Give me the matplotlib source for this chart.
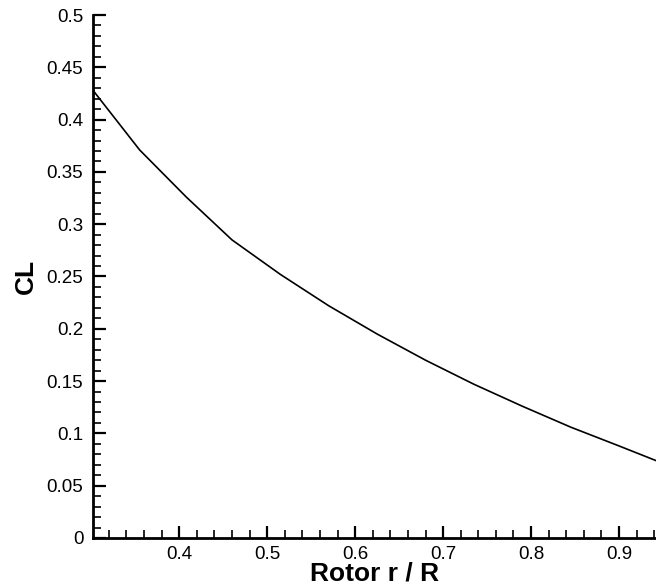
import numpy as np
import matplotlib
matplotlib.use("Agg")
import matplotlib.pyplot as plt
from matplotlib.ticker import MultipleLocator

plt.rcParams['font.family'] = ['Liberation Sans', 'DejaVu Sans']

# spanwise lift coefficient distribution
r_over_R = [0.302, 0.355, 0.408, 0.46, 0.515, 0.57, 0.625, 0.68, 0.735, 0.79, 0.845, 0.9, 0.945]
cl = [0.428, 0.371, 0.326, 0.285, 0.252, 0.222, 0.195, 0.17, 0.147, 0.126, 0.106, 0.088, 0.073]

fig = plt.figure(figsize=(6.56, 5.88), dpi=100)
ax = fig.add_axes([93 / 656, 50 / 588, (656 - 93) / 656, 523 / 588])

ax.plot(r_over_R, cl, color='black', linewidth=1.2)

ax.set_xlim(0.302, 0.942)
ax.set_ylim(0, 0.5)

ax.xaxis.set_major_locator(MultipleLocator(0.1))
ax.xaxis.set_minor_locator(MultipleLocator(0.02))
ax.yaxis.set_major_locator(MultipleLocator(0.05))
ax.yaxis.set_minor_locator(MultipleLocator(0.01))
ax.xaxis.set_major_formatter(plt.FuncFormatter(lambda v, p: f"{v:g}"))
ax.yaxis.set_major_formatter(plt.FuncFormatter(lambda v, p: f"{round(v, 2):g}"))

for side in ['top', 'right']:
    ax.spines[side].set_visible(False)
for side in ['left', 'bottom']:
    ax.spines[side].set_linewidth(2)

ax.tick_params(which='major', direction='in', length=9, width=1.6, labelsize=13.5, pad=6)
ax.tick_params(which='minor', direction='in', length=5.5, width=1.2)
ax.tick_params(axis='y', which='major', pad=7)

ax.set_xlabel('Rotor r / R', fontsize=19, fontweight='bold', labelpad=-1)
ax.set_ylabel('CL', fontsize=19, fontweight='bold', labelpad=6)

fig.savefig('out.png', dpi=100)
